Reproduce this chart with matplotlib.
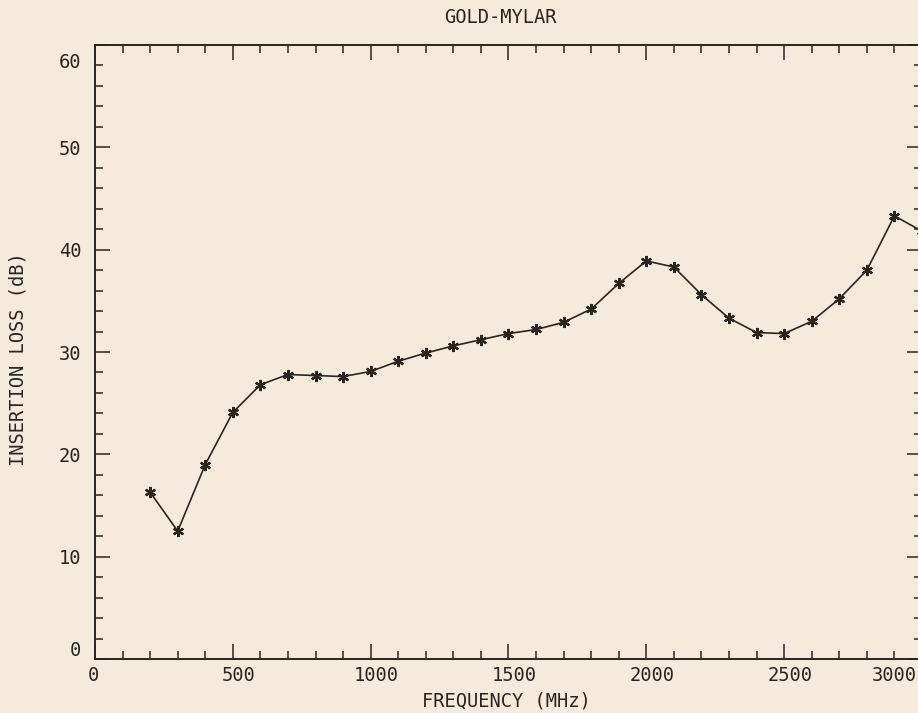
import matplotlib
matplotlib.use("Agg")
import matplotlib.pyplot as plt
from matplotlib.ticker import MultipleLocator
from matplotlib.transforms import ScaledTranslation

# Data
frequency_mhz = [200, 300, 400, 500, 600, 700, 800, 900, 1000, 1100, 1200, 1300,
                 1400, 1500, 1600, 1700, 1800, 1900, 2000, 2100, 2200, 2300,
                 2400, 2500, 2600, 2700, 2800, 2900, 3000]
insertion_loss_db = [16.3, 12.5, 19.0, 24.1, 26.8, 27.8, 27.7, 27.6, 28.1, 29.1,
                     29.9, 30.6, 31.2, 31.8, 32.2, 32.9, 34.2, 36.7, 38.9, 38.3,
                     35.6, 33.3, 31.9, 31.8, 33.0, 35.2, 38.0, 43.3, 41.8]
x_ticks = [0, 500, 1000, 1500, 2000, 2500, 3000]
y_ticks = [0, 10, 20, 30, 40, 50, 60]
title = "GOLD-MYLAR"
x_label = "FREQUENCY (MHz)"
y_label = "INSERTION LOSS (dB)"

BG = "#f4ebdc"
INK = "#2b2520"
FONT = ["DejaVu Sans Mono"]

fig = plt.figure(figsize=(9.18, 7.13), dpi=100, facecolor=BG)
W, H = 918, 713
left, right, top, bottom = 95, 922, 45, 659
ax = fig.add_axes([left / W, (H - bottom) / H, (right - left) / W, (bottom - top) / H])
ax.set_facecolor(BG)

ax.plot(frequency_mhz, insertion_loss_db, color=INK, lw=1.2,
        marker=(6, 2, 0), markersize=8, mew=1.6, mec=INK, mfc=INK, clip_on=True)

ax.set_xlim(0, 3000)
ax.set_ylim(0, 60)

ax.set_xticks(x_ticks)
ax.set_yticks(y_ticks)
ax.xaxis.set_minor_locator(MultipleLocator(100))
ax.yaxis.set_minor_locator(MultipleLocator(2))

for s in ax.spines.values():
    s.set_color(INK)
    s.set_linewidth(1.4)

ax.tick_params(which="both", direction="in", top=True, right=True, color=INK,
               width=1.1, labelcolor=INK)
ax.tick_params(which="major", length=11)
ax.tick_params(which="minor", length=5.5)
ax.tick_params(axis="x", which="major", pad=5)
ax.tick_params(axis="y", which="major", pad=10)

ax.set_xticklabels([str(v) for v in x_ticks], fontsize=13.5, family=FONT)
ax.set_yticklabels([str(v) for v in y_ticks], fontsize=13.5, family=FONT)

def shift(label, dx_px, dy_px):
    label.set_transform(label.get_transform() +
                        ScaledTranslation(dx_px / 100, dy_px / 100, fig.dpi_scale_trans))

# plotter-style placement of tick labels
ylabels = ax.get_yticklabels()
shift(ylabels[0], 0, 10)
shift(ylabels[-1], 0, -15)
xlabels = ax.get_xticklabels()
shift(xlabels[0], -2, 0)
for lab in xlabels[1:-1]:
    shift(lab, 6, 0)
xlabels[-1].set_horizontalalignment("right")
shift(xlabels[-1], -5, 0)

ax.set_title(title, x=(500 - left) / (right - left), y=(bottom - 18) / (bottom - top),
             va="center", pad=0, fontsize=13.5, family=FONT, color=INK)
ax.set_xlabel(x_label, fontsize=13.5, family=FONT, color=INK, va="center")
ax.xaxis.set_label_coords((506 - left) / (right - left), (bottom - 701) / (bottom - top))
ax.set_ylabel(y_label, fontsize=13.5, family=FONT, color=INK, va="center")
ax.yaxis.set_label_coords((18 - left) / (right - left), (bottom - 359) / (bottom - top))

fig.savefig("out.png", dpi=100, facecolor=BG)
